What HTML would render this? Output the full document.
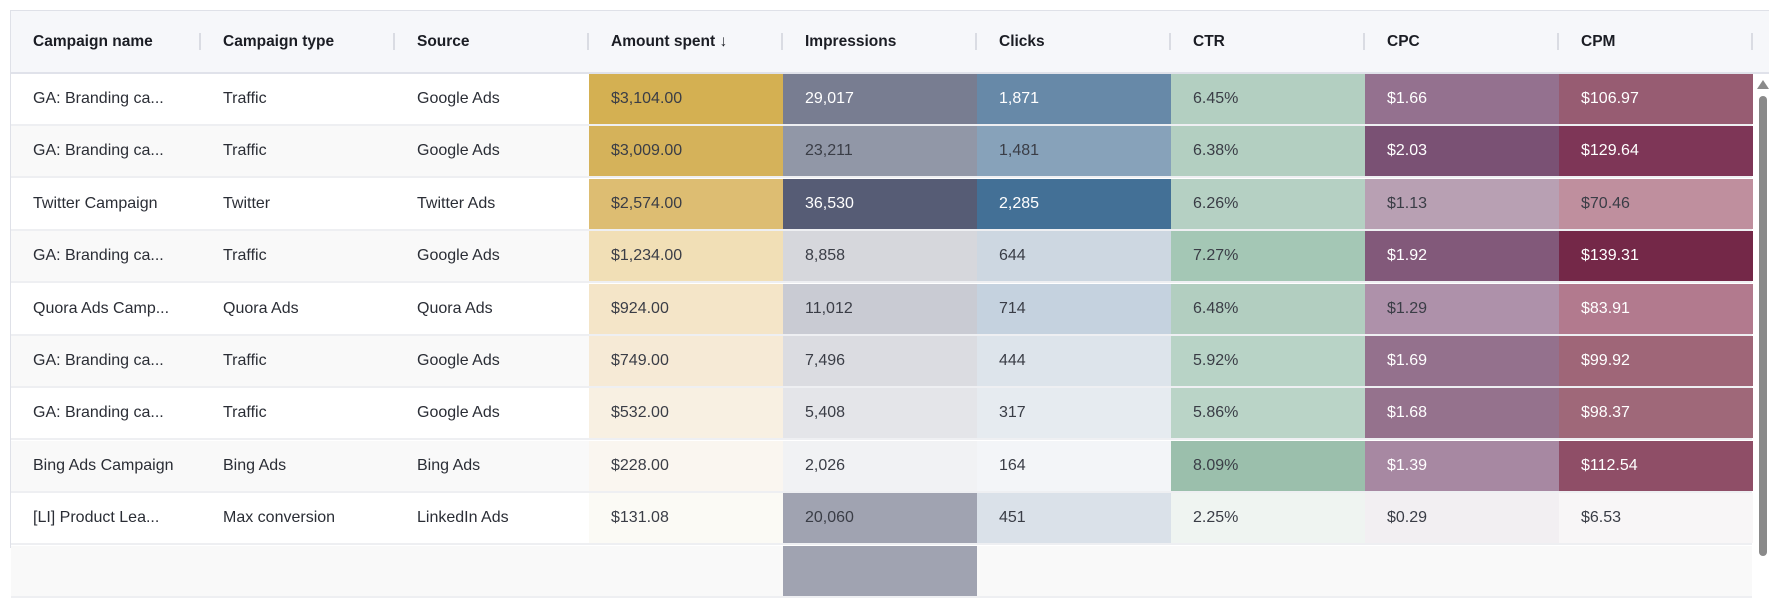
<!DOCTYPE html>
<html><head><meta charset="utf-8">
<style>
html,body{margin:0;padding:0;width:1769px;height:547px;overflow:hidden;background:#fff;font-family:"Liberation Sans Narrow","Liberation Sans",sans-serif;}
#wrap{position:absolute;left:10px;top:10px;width:1759px;height:537px;border-left:1px solid #dfe1e8;border-top:1px solid #dfe1e8;}
#head{position:absolute;left:0;top:0;width:1759px;height:61px;background:#f6f7fa;border-bottom:2px solid #e0e2ea;}
.hc{position:absolute;top:0;height:61px;line-height:61px;font-weight:bold;font-size:15.5px;color:#1b1d24;padding-left:22px;box-sizing:border-box;}
.sep{position:absolute;top:22px;width:2px;height:17px;background:#dadce3;}
.row{position:absolute;left:0;width:1741px;height:52px;border-bottom:2px solid #eeeff2;box-sizing:border-box;}
.c{position:absolute;top:0;height:50px;line-height:50px;font-size:16px;color:#2a2d35;padding-left:22px;box-sizing:border-box;white-space:nowrap;}
#sb{position:absolute;left:1744px;top:63px;width:15px;height:474px;background:#fff;}
#thumb{position:absolute;left:4px;top:22px;width:8px;height:460px;border-radius:4px;background:#8a8a8a;}
#arrow{position:absolute;left:2px;top:6px;width:0;height:0;border-left:6px solid transparent;border-right:6px solid transparent;border-bottom:9px solid #8a8a8a;}
</style></head><body>
<div id="wrap">
<div id="head"></div>
<div id="body"></div>
<div id="sb"><div id="arrow"></div><div id="thumb"></div></div>
</div>
<script>
const headers=["Campaign name","Campaign type","Source","Amount spent \u2193","Impressions","Clicks","CTR","CPC","CPM"];
const names=["GA: Branding ca...","GA: Branding ca...","Twitter Campaign","GA: Branding ca...","Quora Ads Camp...","GA: Branding ca...","GA: Branding ca...","Bing Ads Campaign","[LI] Product Lea..."];
const types=["Traffic","Traffic","Twitter","Traffic","Quora Ads","Traffic","Traffic","Bing Ads","Max conversion"];
const sources=["Google Ads","Google Ads","Twitter Ads","Google Ads","Quora Ads","Google Ads","Google Ads","Bing Ads","LinkedIn Ads"];
const amount=["$3,104.00","$3,009.00","$2,574.00","$1,234.00","$924.00","$749.00","$532.00","$228.00","$131.08"];
const impressions=["29,017","23,211","36,530","8,858","11,012","7,496","5,408","2,026","20,060"];
const clicks=["1,871","1,481","2,285","644","714","444","317","164","451"];
const ctr=["6.45%","6.38%","6.26%","7.27%","6.48%","5.92%","5.86%","8.09%","2.25%"];
const cpc=["$1.66","$2.03","$1.13","$1.92","$1.29","$1.69","$1.68","$1.39","$0.29"];
const cpm=["$106.97","$129.64","$70.46","$139.31","$83.91","$99.92","$98.37","$112.54","$6.53"];
const amountBg=["#d4b052","#d5b25a","#ddbd72","#f1dfb6","#f4e5c8","#f6ead6","#f8f0e2","#faf6f0","#fbfaf5"];
const imprBg=["#787d91","#9197a7","#565c75","#d6d7dc","#c9cbd3","#dbdce1","#e4e5e9","#f1f2f4","#a0a3b1"];
const clickBg=["#6789a8","#87a2ba","#437096","#cdd7e1","#c5d2df","#dde4eb","#e6ebf0","#f3f5f8","#dae1e9"];
const ctrBg=["#b3cfc1","#b3cfc1","#b5d0c3","#a4c7b5","#b2cec0","#b8d3c6","#bad4c7","#9bbfac","#eff4f1"];
const cpcBg=["#94718f","#7a5174","#b8a0b3","#82597a","#ae91aa","#94718d","#95728d","#a788a2","#f2eff2"];
const cpmBg=["#975c72","#7e3657","#bf8f9e","#742848","#b27a8e","#9f6678","#9f6879","#8f4e67","#f8f6f7"];
const colX=[0,190,384,578,772,966,1160,1354,1548,1742];
const head=document.getElementById('head');
headers.forEach((h,i)=>{
  const d=document.createElement('div');
  
  
  d.className='hc';d.style.left=colX[i]+'px';d.style.width=(colX[i+1]-colX[i])+'px';d.textContent=h;
  head.appendChild(d);
  const s=document.createElement('div');
  
  
  s.className='sep';s.style.left=(colX[i+1]-2)+'px';head.appendChild(s);
});
function lum(hex){const r=parseInt(hex.substr(1,2),16),g=parseInt(hex.substr(3,2),16),b=parseInt(hex.substr(5,2),16);return 0.299*r+0.587*g+0.114*b;}
const body=document.getElementById('body');
const cols=[names,types,sources,amount,impressions,clicks,ctr,cpc,cpm];
const bgs=[null,null,null,amountBg,imprBg,clickBg,ctrBg,cpcBg,cpmBg];
for(let r=0;r<10;r++){
  const row=document.createElement('div');
  
  
  row.className='row';row.style.top=(63+r*52.4)+'px';
  row.style.background=r%2?'#f9f9f9':'#fff';
  for(let c=0;c<9;c++){
    const d=document.createElement('div');
    
    
    d.className='c';d.style.left=colX[c]+'px';d.style.width=(colX[c+1]-colX[c])+'px';
    if(r<9){
      d.textContent=cols[c][r];
      if(bgs[c]){const bg=bgs[c][r];d.style.background=bg;if(lum(bg)<150)d.style.color='#fff';else d.style.color='#3a3d46';}
    } else if(c===4){d.style.background='#a0a3b1';}
    row.appendChild(d);
  }
  body.appendChild(row);
}
</script>
</body></html>
